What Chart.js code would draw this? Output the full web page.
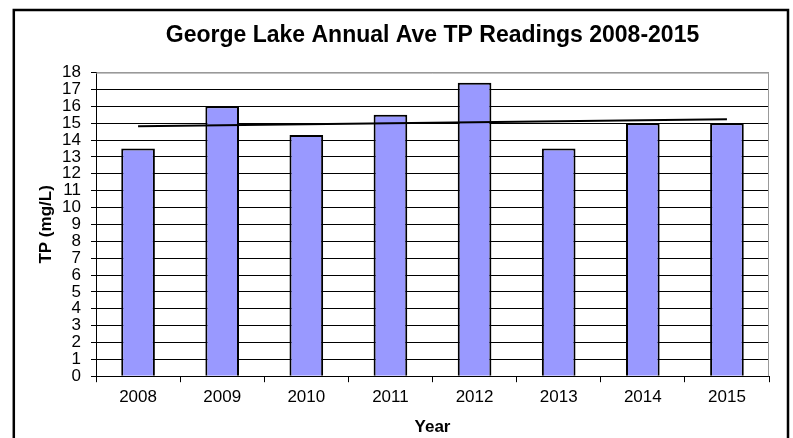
<!DOCTYPE html>
<html>
<head>
<meta charset="utf-8">
<script src="https://cdn.jsdelivr.net/npm/chart.js@4/dist/chart.umd.min.js"></script>
<style>
  html, body { margin: 0; padding: 0; background: #fff; }
  canvas { display: block; }
</style>
</head>
<body>
<canvas id="tpChart" width="793" height="438"></canvas>
<script>
const years = ['2008', '2009', '2010', '2011', '2012', '2013', '2014', '2015'];
const tpValues = [13.5, 16.0, 14.3, 15.5, 17.4, 13.5, 15.0, 15.0];
// trend line: only its two ends are given
const trendValues = [14.82, null, null, null, null, null, null, 15.23];
const yMin = 0;
const yMax = 18;

const fontFamily = "'Liberation Sans', Arial, sans-serif";

// outer frame of the chart object and grey plot border
const framePlugin = {
    id: 'frame',
    beforeDatasetsDraw(chart) {
        const { ctx, chartArea: a } = chart;
        ctx.save();
        ctx.strokeStyle = '#999';
        ctx.lineWidth = 1;
        ctx.beginPath();
        ctx.moveTo(a.left, a.top + 0.5);
        ctx.lineTo(a.right - 0.5, a.top + 0.5);
        ctx.lineTo(a.right - 0.5, a.bottom);
        ctx.stroke();
        ctx.restore();
    },
    afterDraw(chart) {
        const ctx = chart.ctx;
        ctx.save();
        ctx.strokeStyle = '#000';
        ctx.lineWidth = 2.5;
        ctx.beginPath();
        ctx.moveTo(13.8, chart.height);
        ctx.lineTo(13.8, 10);
        ctx.lineTo(788, 10);
        ctx.lineTo(788, chart.height);
        ctx.stroke();
        ctx.restore();
    }
};

new Chart(document.getElementById('tpChart'), {
    data: {
        labels: years,
        datasets: [{
            type: 'line',
            label: 'Trend',
            data: trendValues,
            spanGaps: true,
            borderColor: '#000',
            borderWidth: 2,
            pointRadius: 0,
            fill: false,
            order: 0
        }, {
            type: 'bar',
            label: 'TP',
            data: tpValues,
            backgroundColor: '#9999FF',
            borderColor: '#000',
            borderWidth: 2,
            barPercentage: 0.4,
            categoryPercentage: 1,
            order: 1
        }]
    },
    options: {
        responsive: false,
        animation: false,
        devicePixelRatio: 1,
        layout: { padding: { left: 32, right: 24, top: 13, bottom: 0 } },
        plugins: {
            legend: { display: false },
            tooltip: { enabled: false },
            title: {
                display: true,
                text: 'George Lake Annual Ave TP Readings 2008-2015',
                color: '#000',
                fullSize: false,
                font: { family: fontFamily, size: 23, weight: 'bold' },
                padding: { top: 9, bottom: 23 }
            }
        },
        scales: {
            x: {
                offset: true,
                grid: {
                    offset: true,
                    drawOnChartArea: false,
                    tickLength: 6,
                    color: '#000'
                },
                border: { color: '#000', width: 1 },
                ticks: {
                    color: '#000',
                    padding: 5,
                    maxRotation: 0,
                    autoSkip: false,
                    font: { family: fontFamily, size: 17 }
                },
                title: {
                    display: true,
                    text: 'Year',
                    color: '#000',
                    font: { family: fontFamily, size: 17, weight: 'bold' },
                    padding: { top: 5, bottom: 0 }
                }
            },
            y: {
                min: yMin,
                max: yMax,
                afterFit(scale) { scale.width = 64; },
                grid: {
                    tickLength: 5,
                    color: (c) => c.tick && c.tick.value === yMax ? '#999' : '#000',
                    tickColor: '#000'
                },
                border: { color: '#000', width: 1 },
                ticks: {
                    stepSize: 1,
                    autoSkip: false,
                    color: '#000',
                    padding: 10,
                    font: { family: fontFamily, size: 17 }
                },
                title: {
                    display: true,
                    text: 'TP (mg/L)',
                    color: '#000',
                    font: { family: fontFamily, size: 17, weight: 'bold' },
                    padding: { top: 4, bottom: 4 }
                }
            }
        }
    },
    plugins: [framePlugin]
});
</script>
</body>
</html>
